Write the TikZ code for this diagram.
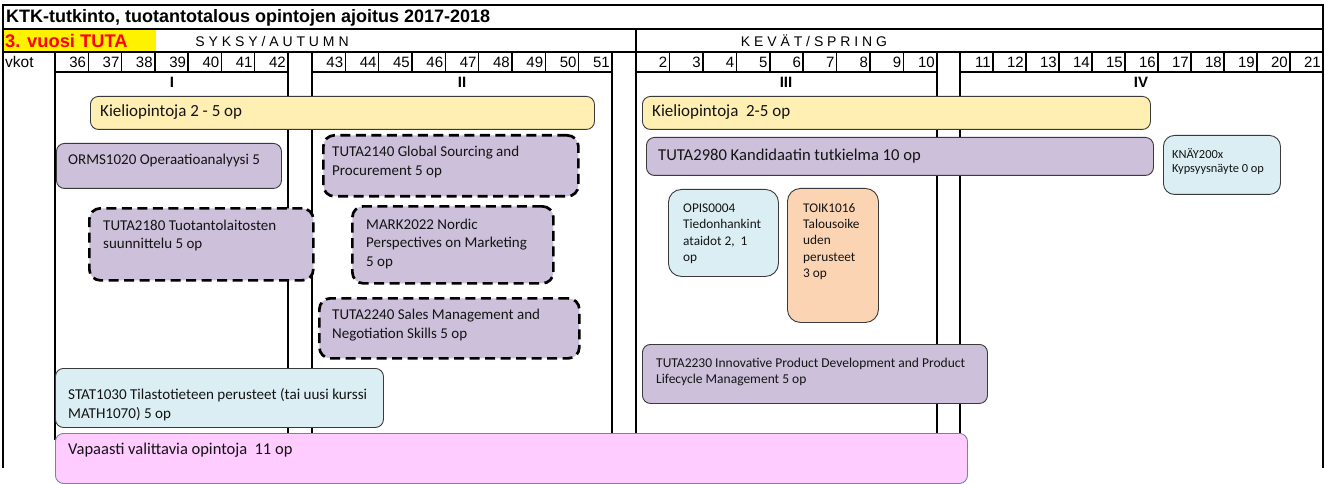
\documentclass[tikz,border=0pt]{standalone}
\usepackage{fontspec}
\setmainfont{Carlito}
\newfontfamily\arialf{Liberation Sans}
\definecolor{kieli}{HTML}{FFEFB3}
\definecolor{lila}{HTML}{CCC0DA}
\definecolor{vsin}{HTML}{DAEEF3}
\definecolor{persik}{HTML}{FBD4B4}
\definecolor{pinkki}{HTML}{FFCCFF}
\definecolor{pinkreuna}{HTML}{7085AD}
\definecolor{reuna}{HTML}{3A3A3A}
\begin{document}
\begin{tikzpicture}[x=1pt,y=-1pt,
  hline/.style={line width=1.8pt},
  tick/.style={line width=1.5pt},
  wk/.style={font=\arialf\fontsize{15}{17}\selectfont, inner sep=0pt, anchor=east},
  hdr/.style={font=\arialf\fontsize{14}{16}\selectfont, inner sep=0pt},
  roman/.style={font=\arialf\bfseries\fontsize{15}{17}\selectfont, inner sep=0pt},
  box/.style={anchor=north west, inner sep=0pt, draw=reuna, line width=0.9pt, rounded corners=8pt},
  dbox/.style={anchor=north west, inner sep=0pt, draw=black, line width=2.7pt, dash pattern=on 10pt off 5.5pt, rounded corners=11pt, fill=lila},
  txt/.style={anchor=north west, inner sep=0pt, align=left, text=black!92},
]
\useasboundingbox (0,0) rectangle (1326,484);

% ---------- header ----------
\fill[yellow] (3,29) rectangle (156,52);
\draw[hline] (3,5) -- (1323,5);
\draw[hline] (3,29) -- (1323,29);
\draw[hline] (3,52) -- (1323,52);
\draw[hline] (3,4.1) -- (3,468);
\draw[hline] (1323,4.1) -- (1323,468);
\draw[hline] (636,29) -- (636,52);

\node[anchor=west, inner sep=0pt, font=\arialf\bfseries\fontsize{18}{19}\selectfont] (title) at (6,17.5) {KTK-tutkinto, tuotantotalous opintojen ajoitus 2017-2018};
\node[anchor=west, inner sep=0pt, text=red, font=\arialf\bfseries\fontsize{18.3}{19}\selectfont] (vuosi) at (5,41) {3. vuosi TUTA};
\node[hdr] (syksy) at (272,41) {S Y K S Y / A U T U M N};
\node[hdr] (kevat) at (814,41) {K E V Ä T / S P R I N G};
\node[anchor=west, inner sep=0pt, font=\arialf\fontsize{15.5}{17}\selectfont] (vkot) at (5,62) {vkot};

% block lines
\foreach \x in {55,288,312,612,636,937,960} {\draw[hline] (\x,52) -- (\x,440);}
\draw[hline] (55,72) -- (288,72);
\draw[hline] (312,72) -- (612,72);
\draw[hline] (636,72) -- (937,72);
\draw[hline] (960,72) -- (1323,72);

% week numbers
\foreach \n [count=\i] in {36,37,38,39,40,41,42} {\node[wk] (w\n) at ({55+33.29*\i-2},62.5) {\n};}
\foreach \i in {1,...,6} {\draw[tick] ({55+33.29*\i},52) -- ({55+33.29*\i},72);}
\foreach \n [count=\i] in {43,44,45,46,47,48,49,50,51} {\node[wk] (w\n) at ({312+33.33*\i-2},62.5) {\n};}
\foreach \i in {1,...,8} {\draw[tick] ({312+33.33*\i},52) -- ({312+33.33*\i},72);}
\foreach \n [count=\i] in {2,3,4,5,6,7,8,9,10} {\node[wk] (w\n) at ({636+33.44*\i-2},62.5) {\n};}
\foreach \i in {1,...,8} {\draw[tick] ({636+33.44*\i},52) -- ({636+33.44*\i},72);}
\foreach \n [count=\i] in {11,12,13,14,15,16,17,18,19,20,21} {\node[wk] (w\n) at ({960+33*\i-2},62.5) {\n};}
\foreach \i in {1,...,10} {\draw[tick] ({960+33*\i},52) -- ({960+33*\i},72);}

\node[roman] (pI) at (172,82.5) {I};
\node[roman] (pII) at (462,82.5) {II};
\node[roman] (pIII) at (786,82.5) {III};
\node[roman] (pIV) at (1141,82.5) {IV};

% ---------- courses ----------
\node[box, fill=kieli, minimum width=504pt, minimum height=33pt] (kieliA) at (90,96) {};
\node[txt, anchor=west, font=\fontsize{17}{19}\selectfont] (kieliAt) at (100,112.5) {Kieliopintoja 2 - 5 op};

\node[box, fill=kieli, minimum width=508pt, minimum height=33pt] (kieliB) at (642,96) {};
\node[txt, anchor=west, font=\fontsize{17}{19}\selectfont] (kieliBt) at (652,112.5) {Kieliopintoja~ 2-5 op};

\node[box, fill=lila, minimum width=225pt, minimum height=45pt] (orms) at (56,143) {};
\node[txt, anchor=west, font=\fontsize{15}{18}\selectfont] (ormst) at (68,161) {ORMS1020 Operaatioanalyysi 5};

\node[dbox, minimum width=255pt, minimum height=61pt] (t2140) at (322,134) {};
\node[txt, font=\fontsize{15}{19}\selectfont] (t2140t) at (332,145.5) {TUTA2140 Global Sourcing and\\Procurement 5 op};

\node[dbox, minimum width=224pt, minimum height=72pt] (t2180) at (88,207) {};
\node[txt, font=\fontsize{15}{18}\selectfont] (t2180t) at (103,220) {TUTA2180 Tuotantolaitosten\\suunnittelu 5 op};

\node[dbox, minimum width=201pt, minimum height=77pt] (mark) at (351,205) {};
\node[txt, font=\fontsize{15}{18.5}\selectfont] (markt) at (366,218.5) {MARK2022 Nordic\\Perspectives on Marketing\\5 op};

\node[dbox, minimum width=260pt, minimum height=60pt] (t2240) at (318,297) {};
\node[txt, font=\fontsize{15}{19}\selectfont] (t2240t) at (332,308.5) {TUTA2240 Sales Management and\\Negotiation Skills 5 op};

\node[box, fill=vsin, minimum width=328pt, minimum height=59pt] (stat) at (55,368) {};
\node[txt, font=\fontsize{15.1}{19}\selectfont] (statt) at (68,388.5) {STAT1030 Tilastotieteen perusteet (tai uusi kurssi\\MATH1070) 5 op};

\node[box, fill=lila, minimum width=507pt, minimum height=38pt] (t2980) at (646,137) {};
\node[txt, anchor=west, font=\fontsize{16.6}{19}\selectfont] (t2980t) at (658,156) {TUTA2980 Kandidaatin tutkielma 10 op};

\node[box, fill=vsin, minimum width=117pt, minimum height=59pt, rounded corners=11pt] (knay) at (1163,135) {};
\node[txt, font=\fontsize{12.4}{14}\selectfont] (knayt) at (1172,148) {KNÄY200x\\Kypsyysnäyte 0 op};

\node[box, fill=vsin, minimum width=110pt, minimum height=87pt, rounded corners=13pt] (opis) at (668,189) {};
\node[txt, font=\fontsize{13.3}{16.5}\selectfont] (opist) at (683,203.5) {OPIS0004\\Tiedonhankint\\ataidot 2,~ 1\\op};

\node[box, fill=persik, minimum width=91pt, minimum height=134pt, rounded corners=13pt] (toik) at (787,188) {};
\node[txt, font=\fontsize{13.3}{16.3}\selectfont] (toikt) at (803,203) {TOIK1016\\Talousoike\\uden\\perusteet\\3 op};

\node[box, fill=lila, minimum width=345pt, minimum height=59pt] (t2230) at (642,344) {};
\node[txt, font=\fontsize{13.5}{15.5}\selectfont] (t2230t) at (656,358) {TUTA2230 Innovative Product Development and Product\\Lifecycle Management 5 op};

\node[box, fill=pinkki, draw=pinkreuna, minimum width=912pt, minimum height=50pt] (vapaa) at (55,433) {};
\node[txt, anchor=west, font=\fontsize{16.5}{19}\selectfont] (vapaat) at (68,450) {Vapaasti valittavia opintoja~ 11 op};
\end{tikzpicture}
\end{document}
